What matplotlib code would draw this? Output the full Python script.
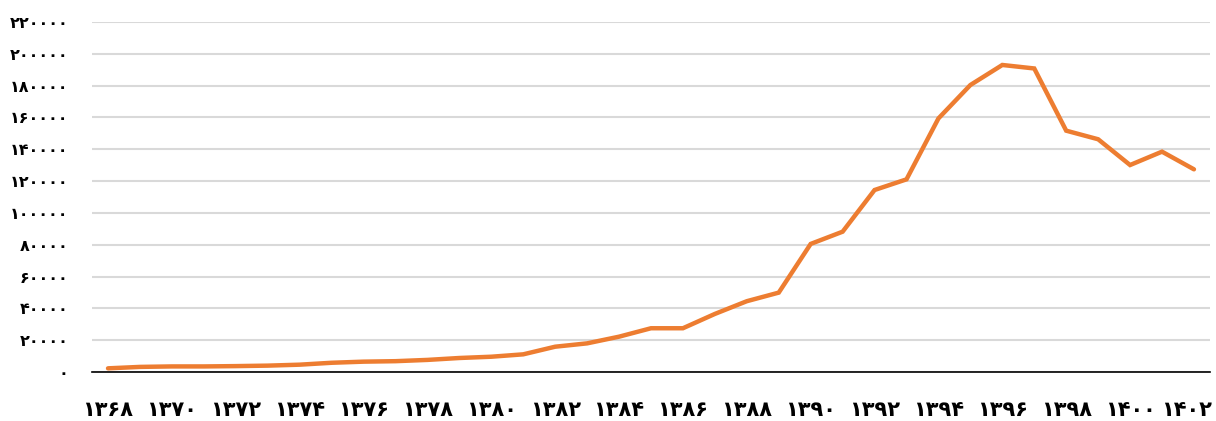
import matplotlib
matplotlib.use("Agg")
import matplotlib.pyplot as plt

# years 1368..1402 (solar hijri) and the values
years = list(range(1368, 1403))
values = [2300, 3200, 3500, 3500, 3700, 4000, 4600, 5800, 6500, 6800,
          7600, 8800, 9600, 11100, 15900, 18000, 22200, 27500, 27500, 36500,
          44500, 49900, 80500, 88200, 114400, 121100, 159400, 180400, 193000, 190800,
          151700, 146300, 130100, 138500, 127400]

y_ticks = list(range(0, 220001, 20000))

PERSIAN = str.maketrans("0123456789", "۰۱۲۳۴۵۶۷۸۹")

def fa(n):
    return str(n).translate(PERSIAN)

fig = plt.figure(figsize=(12.16, 4.21), dpi=100)
ax = fig.add_axes([0.0757, 0.1164, 0.9193, 0.8313])

ax.plot(years, values, color="#ED7D31", linewidth=3.2, solid_capstyle="round",
        solid_joinstyle="miter", zorder=3)

ax.set_xlim(1367.5, 1402.5)
ax.set_ylim(0, 220000)

ax.set_yticks(y_ticks)
ax.set_yticklabels([fa(v) for v in y_ticks], fontsize=11.5, fontweight="bold",
                   family=["DejaVu Sans"])

# year labels drawn as text so the last one can sit flush with the right edge
x_ticks = years[::2]
ax.set_xticks(x_ticks)
ax.set_xticklabels([])
trans = ax.get_xaxis_transform()
for yr in x_ticks:
    xpos, ha = (yr, "center")
    if yr == x_ticks[-1]:
        xpos, ha = (1402.55, "right")
    ax.text(xpos, -0.11, fa(yr), transform=trans, ha=ha, va="center",
            fontsize=15, fontweight="bold", family=["DejaVu Sans"])

ax.grid(axis="y", color="#d9d9d9", linewidth=1.5, zorder=0)
ax.set_axisbelow(True)
for side in ["left", "right", "top"]:
    ax.spines[side].set_visible(False)
ax.spines["bottom"].set_color("black")
ax.spines["bottom"].set_linewidth(1.2)
ax.tick_params(axis="both", length=0)
ax.tick_params(axis="y", pad=17)

fig.savefig("out.png", dpi=100)
